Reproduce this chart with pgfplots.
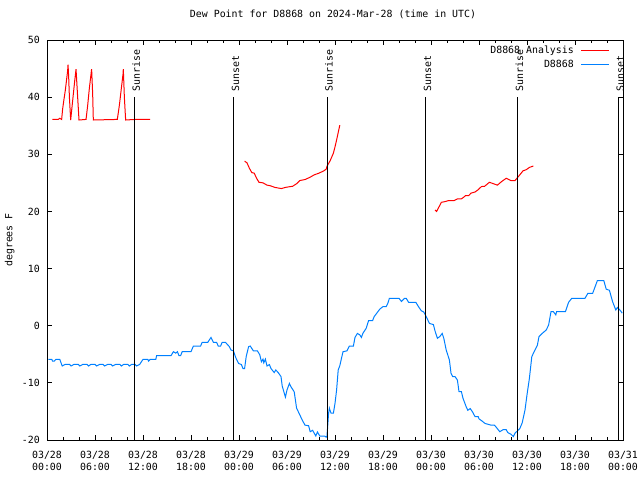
\documentclass[border=0pt]{standalone}
\usepackage{fontspec}
\setmainfont{DejaVu Sans Mono}
\usepackage{pgfplots}
\pgfplotsset{compat=1.18}
\definecolor{gpred}{RGB}{255,0,0}
\definecolor{gpblue}{RGB}{0,128,255}
\begin{document}
\fontsize{9.9bp}{11.5bp}\selectfont
\begin{tikzpicture}
\path (0,0) rectangle (640bp,480bp);
\begin{axis}[
  at={(47bp,40bp)}, anchor=south west,
  scale only axis, width=576bp, height=400bp,
  xmin=0, xmax=72, ymin=-20, ymax=50,
  clip=false,
  axis line style={line width=1bp},
  xtick={0,6,...,72},
  xticklabels={{03/28\\00:00},{03/28\\06:00},{03/28\\12:00},{03/28\\18:00},{03/29\\00:00},{03/29\\06:00},{03/29\\12:00},{03/29\\18:00},{03/30\\00:00},{03/30\\06:00},{03/30\\12:00},{03/30\\18:00},{03/31\\00:00}},
  minor x tick num=2,
  ytick={-20,-10,...,50},
  yticklabels={-20,-10,0,10,20,30,40,50},
  major tick length=4.5bp, minor tick length=2.5bp,
  every tick/.style={black, line width=1bp},
  xticklabel style={align=center, inner sep=0pt, yshift=-11bp},
  yticklabel style={inner sep=0pt, xshift=-7bp},
  ylabel={degrees F},
  ylabel style={at={(axis description cs:-0.056,0.5)}, anchor=south, rotate=0, inner sep=0pt},
  title={Dew Point for D8868 on 2024-Mar-28 (time in UTC)},
  title style={at={(axis description cs:0.5,1)}, anchor=center, yshift=20bp, xshift=-2bp, inner sep=0pt},
  legend style={draw=none, fill=none, at={(axis description cs:1,1)}, anchor=north east,
    xshift=-13bp, yshift=-4bp, inner sep=0pt, row sep=0.5bp, legend cell align=right,
    /tikz/every odd column/.append style={column sep=5bp}},
  legend plot pos=right,
  legend image code/.code={\draw[#1] (0bp,0bp) -- (28bp,0bp);},
]
\addplot[gpred, line width=1bp] coordinates {
(0.67,36.1) (1.4,36.1) (1.6,36.3) (1.83,36.1) (1.96,38.0) (2.12,39.6) (2.29,41.2) (2.46,43.2) (2.58,44.6) (2.63,45.7) (2.71,43.5) (2.8,40.0) (2.96,36.0) (3.12,38.2) (3.29,40.5) (3.46,42.8) (3.63,44.9) (3.79,41.0) (4.0,36.0) (4.88,36.1) (5.08,38.5) (5.29,41.5) (5.5,44.0) (5.58,44.9) (5.71,40.5) (5.79,36.0) (8.79,36.1) (9.04,38.5) (9.29,41.5) (9.5,44.0) (9.54,44.9) (9.67,40.0) (9.83,36.0) (11.0,36.1) (12.9,36.1)
};
\addlegendentry{D8868 Analysis}
\addplot[gpblue, line width=1bp] coordinates {
(0.17,-5.9) (0.6,-5.9) (0.7,-6.2) (0.9,-6.2) (1.1,-5.9) (1.6,-5.9) (1.9,-7.05) (2.3,-6.75) (2.8,-6.75) (3.0,-7.05) (3.4,-6.75) (3.9,-6.75) (4.1,-7.05) (4.5,-6.75) (5.0,-6.75) (5.2,-7.05) (5.5,-6.75) (6.0,-6.75) (6.2,-7.05) (6.6,-6.75) (7.0,-6.75) (7.2,-7.05) (7.6,-6.75) (8.0,-6.75) (8.2,-7.05) (8.6,-6.75) (9.1,-6.75) (9.3,-7.05) (9.6,-6.75) (10.1,-6.75) (10.3,-7.05) (10.6,-6.75) (11.0,-6.75) (11.2,-7.05) (11.6,-6.75) (11.8,-6.3) (12.0,-5.9) (12.6,-5.9) (12.7,-6.2) (12.9,-5.9) (13.6,-5.9) (13.7,-5.25) (15.5,-5.25) (15.8,-4.55) (16.1,-4.8) (16.3,-4.55) (16.5,-5.25) (16.7,-5.25) (16.9,-4.55) (18.0,-4.55) (18.3,-3.55) (19.2,-3.55) (19.4,-2.9) (20.1,-2.9) (20.5,-2.05) (20.8,-2.9) (21.2,-2.9) (21.4,-3.55) (21.7,-3.55) (21.9,-2.9) (22.3,-2.9) (22.8,-3.67) (23.0,-4.25) (23.3,-4.4) (23.6,-5.6) (23.95,-6.6) (24.3,-6.8) (24.5,-7.5) (24.7,-7.5) (24.9,-5.4) (25.2,-3.67) (25.4,-3.55) (25.8,-4.4) (26.3,-4.4) (26.6,-5.1) (26.8,-6.3) (27.0,-5.85) (27.1,-6.5) (27.3,-5.85) (27.5,-7.05) (27.8,-6.8) (28.0,-7.5) (28.4,-8.2) (28.6,-7.75) (28.9,-8.2) (29.25,-8.9) (29.4,-10.55) (29.8,-12.5) (30.0,-11.25) (30.3,-10.1) (30.5,-10.7) (30.9,-11.55) (31.2,-14.45) (31.5,-15.3) (31.9,-16.5) (32.25,-17.4) (32.7,-17.5) (32.9,-18.55) (33.2,-18.3) (33.6,-19.3) (33.8,-18.6) (34.1,-19.3) (34.7,-19.3) (34.9,-19.5) (35.0,-19.3) (35.2,-15.3) (35.3,-14.45) (35.5,-15.3) (35.8,-15.3) (36.0,-13.6) (36.2,-11.25) (36.4,-7.75) (36.6,-7.0) (37.0,-4.55) (37.5,-4.4) (37.8,-3.55) (38.3,-3.55) (38.5,-2.05) (38.8,-1.35) (39.1,-1.6) (39.3,-2.05) (39.5,-1.3) (39.9,-0.45) (40.2,0.9) (40.7,0.9) (40.9,1.6) (41.6,2.9) (42.0,3.35) (42.4,3.35) (42.6,3.9) (42.8,4.8) (44.0,4.8) (44.3,4.25) (44.7,4.8) (44.9,4.8) (45.2,4.1) (46.1,4.1) (46.5,3.2) (46.8,2.6) (47.1,2.4) (47.5,1.3) (47.8,0.4) (48.3,0.2) (48.5,-0.9) (48.8,-2.2) (49.1,-1.9) (49.4,-1.35) (49.6,-2.2) (49.9,-4.25) (50.3,-6.0) (50.5,-8.3) (50.7,-8.9) (51.0,-8.9) (51.3,-9.5) (51.5,-11.55) (51.8,-11.55) (52.0,-12.7) (52.4,-14.2) (52.6,-14.8) (52.9,-14.5) (53.2,-15.1) (53.5,-15.9) (53.9,-15.9) (54.0,-16.3) (54.4,-16.7) (54.75,-17.1) (55.5,-17.4) (55.9,-17.4) (56.0,-17.5) (56.6,-18.55) (57.0,-18.2) (57.4,-18.2) (57.6,-18.7) (58.0,-19.0) (58.3,-19.4) (58.5,-18.8) (59.1,-18.0) (59.4,-17.0) (59.75,-14.75) (60.0,-12.1) (60.3,-9.2) (60.6,-5.4) (61.0,-4.25) (61.3,-3.4) (61.5,-1.9) (61.9,-1.35) (62.4,-0.75) (62.7,0.1) (63.0,2.45) (63.3,2.45) (63.6,1.9) (63.7,2.45) (64.8,2.45) (65.2,4.1) (65.6,4.8) (67.25,4.8) (67.6,5.65) (68.2,5.65) (68.4,6.4) (68.8,7.9) (69.6,7.9) (69.9,6.4) (70.3,6.2) (70.7,4.2) (71.1,2.75) (71.3,3.2) (71.7,2.6) (71.9,2.2)
};
\addlegendentry{D8868}
\addplot[gpred, line width=1bp, forget plot] coordinates {
(24.7,28.8) (25.0,28.5) (25.3,27.55) (25.6,26.8) (25.9,26.7) (26.2,25.8) (26.5,25.1) (27.0,25.0) (27.5,24.6) (27.9,24.5) (28.5,24.2) (28.9,24.1) (29.3,24.0) (29.8,24.2) (30.2,24.3) (30.7,24.4) (31.2,24.85) (31.6,25.4) (32.3,25.6) (32.9,26.0) (33.4,26.4) (34.0,26.7) (34.6,27.1) (34.9,27.4) (35.0,27.9) (35.4,28.9) (35.8,30.2) (36.0,31.3) (36.2,32.5) (36.6,35.1)
};
\addplot[gpred, line width=1bp, forget plot] coordinates {
(48.5,20.25) (48.7,20.0) (49.0,20.8) (49.3,21.6) (49.7,21.7) (50.2,21.9) (50.9,21.9) (51.3,22.2) (51.8,22.2) (52.1,22.5) (52.3,22.75) (52.7,22.75) (53.0,23.2) (53.5,23.4) (53.9,23.8) (54.3,24.35) (54.7,24.4) (55.3,25.1) (55.7,24.9) (56.3,24.6) (56.8,25.2) (57.4,25.8) (58.0,25.4) (58.5,25.4) (59.1,26.4) (59.5,27.1) (59.9,27.3) (60.3,27.7) (60.8,27.95)
};
\addplot[black, line width=1bp, forget plot] coordinates {(10.9,-20) (10.9,40)};
\addplot[black, line width=1bp, forget plot] coordinates {(23.3,-20) (23.3,40)};
\addplot[black, line width=1bp, forget plot] coordinates {(35.0,-20) (35.0,40)};
\addplot[black, line width=1bp, forget plot] coordinates {(47.3,-20) (47.3,40)};
\addplot[black, line width=1bp, forget plot] coordinates {(58.8,-20) (58.8,40)};
\addplot[black, line width=1bp, forget plot] coordinates {(71.4,-20) (71.4,40)};
\node[xshift=2bp, yshift=2bp, rotate=90, anchor=west] at (axis cs:10.9,40) {Sunrise};
\node[xshift=2bp, yshift=2bp, rotate=90, anchor=west] at (axis cs:23.3,40) {Sunset};
\node[xshift=2bp, yshift=2bp, rotate=90, anchor=west] at (axis cs:35.0,40) {Sunrise};
\node[xshift=2bp, yshift=2bp, rotate=90, anchor=west] at (axis cs:47.3,40) {Sunset};
\node[xshift=2bp, yshift=2bp, rotate=90, anchor=west] at (axis cs:58.8,40) {Sunrise};
\node[xshift=2bp, yshift=2bp, rotate=90, anchor=west] at (axis cs:71.4,40) {Sunset};
\end{axis}
\end{tikzpicture}
\end{document}
